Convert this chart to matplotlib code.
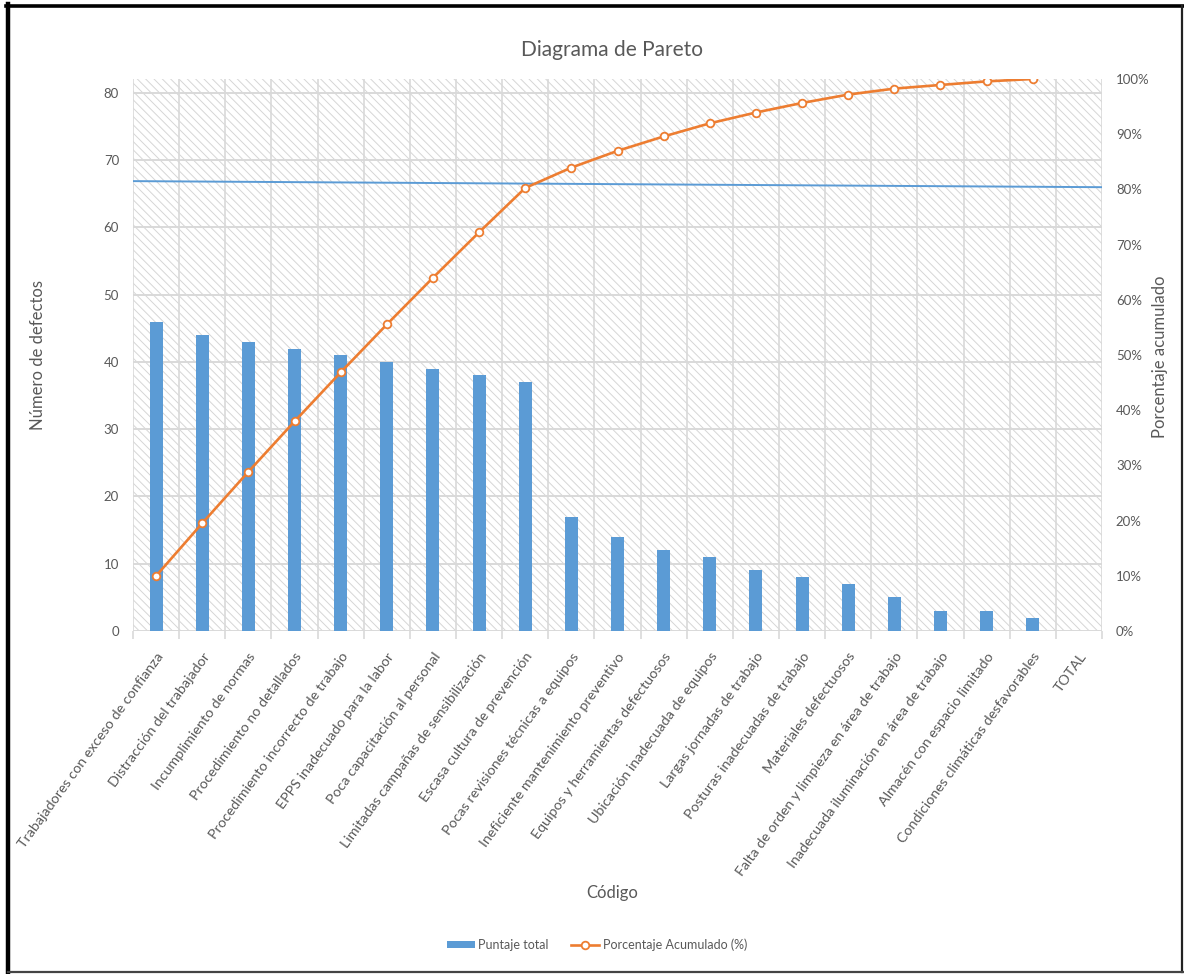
import matplotlib
matplotlib.use("Agg")
import matplotlib.pyplot as plt
from matplotlib.patches import Rectangle
from matplotlib.lines import Line2D
from matplotlib.ticker import FixedLocator, FuncFormatter

plt.rcParams['font.family'] = ['Lato', 'DejaVu Sans']
plt.rcParams['hatch.linewidth'] = 0.7
plt.rcParams['hatch.color'] = '#d6d6d6'

categorias = [
    "Trabajadores con exceso de confianza",
    "Distracción del trabajador",
    "Incumplimiento de normas",
    "Procedimiento no detallados",
    "Procedimiento incorrecto de trabajo",
    "EPPS inadecuado para la labor",
    "Poca capacitación al personal",
    "Limitadas campañas de sensibilización",
    "Escasa cultura de prevención",
    "Pocas revisiones técnicas a equipos",
    "Ineficiente mantenimiento preventivo",
    "Equipos y herramientas defectuosos",
    "Ubicación inadecuada de equipos",
    "Largas jornadas de trabajo",
    "Posturas inadecuadas de trabajo",
    "Materiales defectuosos",
    "Falta de orden y limpieza en área de trabajo",
    "Inadecuada iluminación en área de trabajo",
    "Almacén con espacio limitado",
    "Condiciones climáticas desfavorables",
    "TOTAL",
]

puntaje_total = [46, 44, 43, 42, 41, 40, 39, 38, 37, 17, 14, 12, 11, 9, 8, 7, 5, 3, 3, 2, 0]

porcentaje_acumulado = [9.98, 19.52, 28.85, 37.96, 46.85, 55.53, 63.99, 72.23, 80.26, 83.95,
                        86.98, 89.59, 91.97, 93.93, 95.66, 97.18, 98.26, 98.92, 99.57, 100.0]

# reference line near 80 %, drawn across the full width
linea_80 = [81.5, 80.4]

ticks_izq = [0, 10, 20, 30, 40, 50, 60, 70, 80]
ticks_der = [0, 10, 20, 30, 40, 50, 60, 70, 80, 90, 100]

W, H = 1184, 974
fig = plt.figure(figsize=(W / 100, H / 100), dpi=100)
fig.patch.set_facecolor('white')

left, right, bottom, top = 133, 1102, 631, 79
ax = fig.add_axes([left / W, 1 - bottom / H, (right - left) / W, (bottom - top) / H])
ax2 = ax.twinx()

texto = '#595959'
grid = '#d9d9d9'
azul = '#5B9BD5'
naranja = '#ED7D31'

n = len(categorias)
x = list(range(n))

ax.set_xlim(-0.5, n - 0.5)
ax.set_ylim(0, 82.08)
ax2.set_ylim(0, 100)

# hatched plot background
ax.add_patch(Rectangle((0, 0), 1, 1, transform=ax.transAxes, facecolor='white',
                       edgecolor='#d6d6d6', hatch='\\' * 4, lw=0, zorder=0))

for yv in ticks_izq:
    ax.axhline(yv, color=grid, lw=1.4, zorder=1)
for b in range(n + 1):
    ax.axvline(b - 0.5, color=grid, lw=1.2, zorder=1)

ax.bar(x, puntaje_total, width=0.28, color=azul, zorder=3, label='Puntaje total')

ax2.plot([-0.5, n - 0.5], linea_80, color=azul, lw=1.4, zorder=2)
ax2.plot(x[:len(porcentaje_acumulado)], porcentaje_acumulado, color=naranja, lw=1.9,
         marker='o', markersize=5.5, markerfacecolor='white', markeredgecolor=naranja,
         markeredgewidth=1.3, zorder=4, label='Porcentaje Acumulado (%)')

for s in list(ax.spines.values()) + list(ax2.spines.values()):
    s.set_visible(False)

ax.set_yticks(ticks_izq)
ax.tick_params(axis='y', length=0, labelsize=9.5, labelcolor=texto, pad=10)
ax2.set_yticks(ticks_der)
ax2.yaxis.set_major_formatter(FuncFormatter(lambda v, p: f"{int(v)}%"))
ax2.tick_params(axis='y', length=0, labelsize=9.5, labelcolor=texto, pad=10)

ax.set_xticks(x)
ax.set_xticklabels(categorias, rotation=54, ha='right', rotation_mode='anchor',
                   fontsize=10.3, color=texto)
ax.tick_params(axis='x', which='major', length=0, pad=14)
ax.xaxis.set_minor_locator(FixedLocator([b - 0.5 for b in range(n + 1)]))
ax.tick_params(axis='x', which='minor', length=6, color=grid, width=1.2)

# line series on top of the bars
ax2.set_zorder(ax.get_zorder() + 1)
ax2.patch.set_visible(False)

fig.text(612 / W, 1 - 50 / H, 'Diagrama de Pareto', ha='center', va='center',
         fontsize=15, color=texto)
fig.text(38 / W, 1 - 355 / H, 'Número de defectos', rotation=90, ha='center',
         va='center', fontsize=12, color=texto)
fig.text(1160 / W, 1 - 357 / H, 'Porcentaje acumulado', rotation=90, ha='center',
         va='center', fontsize=12, color=texto)
fig.text(612 / W, 1 - 893 / H, 'Código', ha='center', va='center', fontsize=12,
         color=texto)

h1, l1 = ax.get_legend_handles_labels()
h2, l2 = ax2.get_legend_handles_labels()
fig.legend(h1 + h2, l1 + l2, loc='center', bbox_to_anchor=(597 / W, 1 - 945 / H),
           ncol=2, frameon=False, fontsize=9, labelcolor=texto, handlelength=2.2,
           handleheight=0.5, columnspacing=1.8, handletextpad=0.3)

# outer frame
fig.add_artist(Line2D([8 / W, 8 / W], [0.0, 1 - 4 / H], transform=fig.transFigure,
                      color='black', lw=3.2))
fig.add_artist(Line2D([6 / W, 1183 / W], [1 - 6 / H, 1 - 6 / H], transform=fig.transFigure,
                      color='black', lw=2.6))
fig.add_artist(Line2D([1182 / W, 1182 / W], [1 - 972 / H, 1 - 6 / H],
                      transform=fig.transFigure, color='#222222', lw=1.6))
fig.add_artist(Line2D([8 / W, 1183 / W], [1 - 972 / H, 1 - 972 / H],
                      transform=fig.transFigure, color='#444444', lw=1.6))

fig.savefig('out.png', dpi=100, facecolor='white')
